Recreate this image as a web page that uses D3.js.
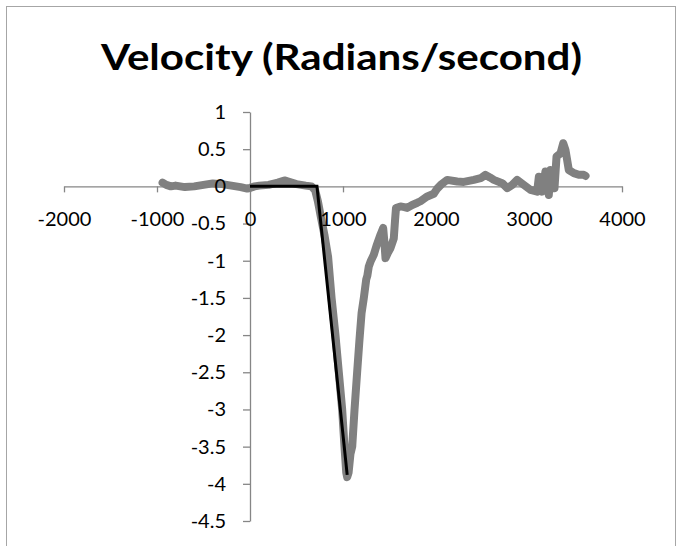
<!DOCTYPE html>
<html>
<head>
<meta charset="utf-8">
<script src="https://cdn.jsdelivr.net/npm/d3@7"></script>
<style>
  html, body { margin: 0; padding: 0; background: #fff; }
  svg { display: block; }
  .tick text { font-family: Lato, "Open Sans", sans-serif; font-size: 20px; fill: #000; }
</style>
</head>
<body>
<svg id="chart" width="682" height="546"></svg>
<script>
// Measured angular velocity (time in ms, rad/s)
const measuredT = [-940, -900, -850, -800, -700, -600, -500, -400, -300, -200, -100, -30, 0, 50, 100, 200, 300, 370, 420, 500, 600, 660, 700, 730, 760, 800, 840, 877, 919, 955, 991, 1016, 1035, 1045, 1060, 1080, 1099, 1124, 1152, 1175, 1181, 1200, 1224, 1250, 1262, 1277, 1300, 1331, 1360, 1403, 1432, 1445, 1457, 1480, 1511, 1546, 1560, 1570, 1618, 1660, 1690, 1744, 1800, 1833, 1900, 1976, 2013, 2060, 2120, 2228, 2299, 2406, 2480, 2532, 2580, 2622, 2712, 2766, 2820, 2873, 2944, 3016, 3088, 3106, 3125, 3142, 3177, 3195, 3213, 3231, 3255, 3274, 3296, 3339, 3368, 3392, 3428, 3482, 3535, 3589, 3608];
const measuredV = [0.05, 0.02, 0.0, 0.01, -0.01, 0.0, 0.02, 0.04, 0.03, 0.01, -0.01, -0.03, -0.02, 0.0, 0.01, 0.02, 0.05, 0.08, 0.06, 0.03, 0.01, 0.0, -0.05, -0.2, -0.4, -0.65, -0.95, -1.5, -2.0, -2.5, -3.0, -3.5, -3.85, -3.91, -3.85, -3.6, -3.5, -3.0, -2.5, -2.1, -2.0, -1.7, -1.5, -1.25, -1.2, -1.08, -1.0, -0.92, -0.8, -0.65, -0.56, -0.75, -0.965, -0.9, -0.83, -0.7, -0.45, -0.29, -0.27, -0.28, -0.29, -0.25, -0.22, -0.2, -0.14, -0.1, -0.03, 0.03, 0.087, 0.065, 0.06, 0.087, 0.11, 0.155, 0.12, 0.087, 0.043, -0.025, 0.02, 0.087, 0.02, -0.047, -0.07, 0.13, -0.02, -0.07, 0.2, 0.05, -0.115, 0.22, 0.18, -0.025, 0.4, 0.446, 0.58, 0.49, 0.22, 0.178, 0.155, 0.155, 0.14];

// Piecewise model of the velocity profile
const modelT = [0, 720, 1045];
const modelV = [0, 0, -3.88];

// Axis ticks
const xTicks = [-2000, -1000, 0, 1000, 2000, 3000, 4000];
const yTicks = [1, 0.5, 0, -0.5, -1, -1.5, -2, -2.5, -3, -3.5, -4, -4.5];
const titleText = "Velocity (Radians/second)";

const svg = d3.select("#chart");
const axisColor = "#868686";

// Chart frame
svg.append("rect")
  .attr("x", 6.5).attr("y", 6.5)
  .attr("width", 669).attr("height", 580)
  .attr("fill", "#fff")
  .attr("stroke", "#a6a6a6").attr("stroke-width", 1);

// Title
svg.append("text")
  .attr("x", 341.5).attr("y", 70)
  .attr("text-anchor", "middle")
  .attr("font-family", "Lato, 'Open Sans', sans-serif")
  .attr("font-weight", "bold")
  .attr("font-size", 37)
  .attr("textLength", 481)
  .attr("lengthAdjust", "spacingAndGlyphs")
  .text(titleText);

const x = d3.scaleLinear().domain([-2000, 4000]).range([64, 622]);
const y = d3.scaleLinear().domain([-4.5, 1]).range([521, 112]);

// Plain hyphen-minus for negative labels
const xAxis = d3.axisBottom(x).tickValues(xTicks).tickFormat(d => String(d))
  .tickSize(6).tickPadding(19).tickSizeOuter(0);
const yAxis = d3.axisLeft(y).tickValues(yTicks).tickFormat(d => String(d))
  .tickSize(7).tickPadding(17).tickSizeOuter(0);

function styleAxis(g) {
  g.select(".domain").attr("stroke", axisColor).attr("stroke-width", 1.3);
  g.selectAll(".tick line").attr("stroke", axisColor).attr("stroke-width", 1.3);
}

// Axis lines (labels drawn later, above the series)
const xLines = svg.append("g").attr("transform", `translate(0,${y(0)})`).call(xAxis).call(styleAxis);
xLines.selectAll("text").remove();
const yLines = svg.append("g").attr("transform", `translate(${x(0)},0)`).call(yAxis).call(styleAxis);
yLines.selectAll("text").remove();

const line = d3.line().x(d => x(d[0])).y(d => y(d[1]));

const measured = measuredT.map((t, i) => [t, measuredV[i]]);
const model = modelT.map((t, i) => [t, modelV[i]]);

svg.append("path")
  .datum(measured)
  .attr("d", line)
  .attr("fill", "none")
  .attr("stroke", "#808080")
  .attr("stroke-width", 8)
  .attr("stroke-linejoin", "round")
  .attr("stroke-linecap", "round");

svg.append("path")
  .datum(model)
  .attr("d", line)
  .attr("fill", "none")
  .attr("stroke", "#000")
  .attr("stroke-width", 3)
  .attr("stroke-linejoin", "miter");

// Tick labels
const xLabels = svg.append("g").attr("transform", `translate(0,${y(0)})`).call(xAxis);
xLabels.select(".domain").remove();
xLabels.selectAll(".tick line").remove();
const yLabels = svg.append("g").attr("transform", `translate(${x(0)},0)`).call(yAxis);
yLabels.select(".domain").remove();
yLabels.selectAll(".tick line").remove();
svg.selectAll(".tick text").attr("font-family", null).attr("font-size", null);
</script>
</body>
</html>
